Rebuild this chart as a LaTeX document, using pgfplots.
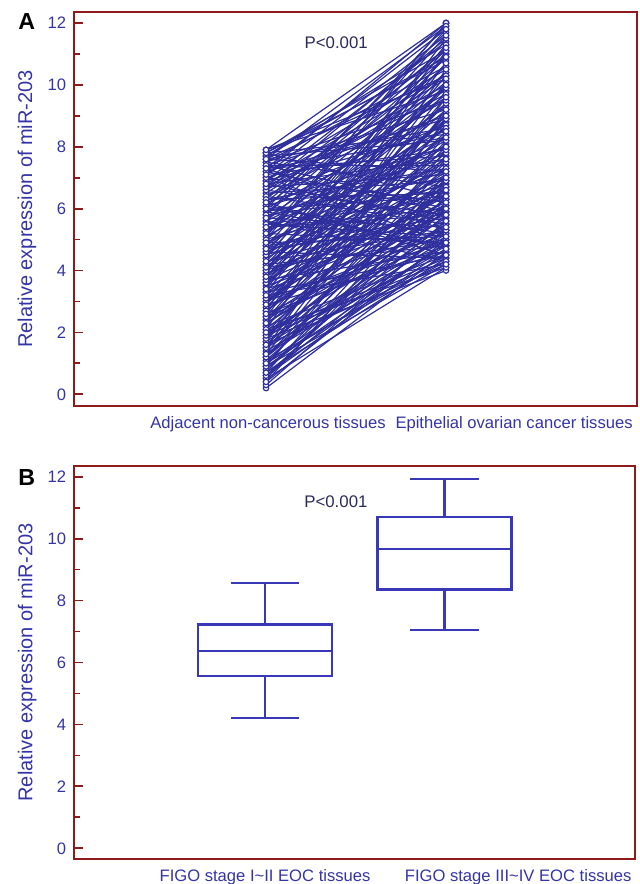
\documentclass[border=0pt]{standalone}
\usepackage{fontspec}
\setmainfont{Liberation Sans}
\usepackage{pgfplots}
\pgfplotsset{compat=1.18}
\usepackage{pgfplotstable}

\definecolor{frameRed}{HTML}{8E1B1B}
\definecolor{tickBlue}{HTML}{3434A8}
\definecolor{lineBlue}{HTML}{2E2E9C}
\definecolor{boxBlue}{HTML}{3838B8}
\definecolor{pInk}{HTML}{2A2A58}

% paired samples: adjacent tissue vs EOC tissue
\pgfplotstableread{
adj eoc
0.2 4.6
0.5 4.1
0.6 5.3
0.7 4.4
0.8 6.2
0.9 4.9
1.0 7.1
1.1 4.3
1.2 5.8
1.3 8.4
1.4 4.7
1.5 6.6
1.6 5.1
1.7 9.2
1.8 4.0
1.9 7.7
2.0 5.5
2.1 6.9
2.2 4.5
2.3 8.8
2.4 5.9
2.5 10.1
2.6 4.8
2.7 7.3
2.8 6.1
2.9 9.6
3.0 5.2
3.1 8.1
3.2 4.2
3.3 6.4
3.4 10.7
3.5 5.6
3.6 7.9
3.7 4.6
3.8 9.0
3.9 6.7
4.0 11.2
4.1 5.0
4.2 8.6
4.3 6.0
4.4 7.5
4.5 10.4
4.6 4.4
4.7 9.4
4.8 5.7
4.9 8.0
5.0 6.8
5.1 11.6
5.2 4.9
5.3 7.2
5.4 9.9
5.5 6.3
5.6 8.3
5.7 5.4
5.8 10.9
5.9 7.0
6.0 9.1
6.1 4.7
6.2 11.0
6.3 6.5
6.4 8.7
6.5 10.2
6.6 5.8
6.7 9.7
6.8 7.6
6.9 11.4
7.0 6.2
7.1 10.5
7.2 8.9
7.3 11.8
7.4 7.4
7.5 9.5
7.6 11.9
7.7 8.2
7.8 10.8
7.9 12.0
0.4 5.0
0.6 6.0
0.9 4.2
1.2 7.4
1.5 5.0
1.8 6.3
2.0 4.4
2.3 5.7
2.6 9.8
2.9 4.6
3.1 6.5
3.4 5.3
3.7 8.4
4.0 6.1
4.3 10.0
4.6 7.0
4.9 5.1
5.2 9.3
5.5 7.8
5.8 6.6
6.1 10.6
6.4 5.5
6.7 11.5
7.0 9.0
7.3 7.7
7.6 10.3
7.8 11.1
7.5 6.7
6.9 8.5
6.0 11.7
5.3 10.1
4.4 11.3
3.5 9.4
2.4 8.0
1.6 6.8
0.8 5.6
1.0 4.5
2.1 4.1
3.2 7.2
4.8 8.8
5.6 4.3
6.6 9.9
7.2 5.9
7.7 10.9
3.9 5.9
2.7 6.6
4.1 7.6
5.0 12.0
6.3 7.3
1.4 8.9
3.6 11.0
5.9 4.8
7.4 9.2
0.5 6.4
0.3 5.4
0.7 7.0
1.1 6.1
1.3 4.8
1.7 5.3
1.9 4.3
2.2 7.5
2.5 5.0
2.8 8.7
3.0 6.9
3.3 4.5
3.6 5.8
3.8 7.1
4.2 4.8
4.5 6.4
4.7 5.5
5.1 8.2
5.4 6.0
5.7 9.6
6.0 5.2
6.2 8.0
6.5 6.9
6.8 10.0
7.1 7.9
7.3 5.3
7.6 8.6
7.9 9.8
7.8 6.3
7.7 11.3
7.5 10.6
7.2 12.0
6.9 10.3
6.6 11.1
6.4 9.5
6.1 7.6
5.8 11.9
5.6 10.4
5.3 8.6
5.0 9.7
4.8 10.9
4.5 8.3
4.2 9.9
3.9 11.5
3.6 8.9
3.3 10.3
3.0 7.8
2.7 11.1
2.4 9.1
2.1 10.5
1.8 8.2
1.5 9.6
1.2 6.7
0.9 7.9
0.6 4.7
0.4 6.9
1.0 5.2
1.9 5.9
2.5 6.3
3.1 4.9
3.7 6.2
4.3 5.3
4.9 7.3
5.5 5.1
6.0 6.4
6.7 7.1
7.0 4.9
7.4 6.0
7.8 8.4
7.9 10.2
7.1 11.6
6.3 11.2
5.2 11.8
4.6 10.7
3.8 10.0
2.9 8.5
2.0 7.6
1.3 5.5
0.7 4.9
1.6 4.2
2.6 5.4
3.4 7.0
4.0 8.9
4.7 6.6
5.4 5.8
6.2 4.5
6.8 5.6
7.3 8.3
7.6 7.2
5.7 8.0
4.1 9.2
3.2 9.0
2.3 6.0
}\pairs

\pgfplotsset{
  panel/.style={
    scale only axis,
    anchor=south west,
    axis line style={frameRed, line width=1pt},
    ytick={0,2,4,6,8,10,12},
    minor y tick num=1,
    ytick pos=left,
    tick align=inside,
    major tick length=4.5pt,
    minor tick length=3pt,
    every tick/.style={frameRed, line width=0.9pt},
    major x tick style={draw=none},
    yticklabel style={font=\fontsize{8.3}{9}\selectfont, text=tickBlue, xshift=-0.4pt},
    xticklabel style={font=\fontsize{8.3}{9}\selectfont, text=tickBlue},
    /pgf/number format/assume math mode=true,
    every axis y label/.style={at={(axis description cs:-0.0835,0.5)},
      rotate=90, anchor=center},
    ylabel style={font=\fontsize{10}{12}\selectfont, text=tickBlue},
    ylabel={Relative expression of miR-203},
    clip=false,
  },
  boxline/.style={boxBlue, line width=1.1pt, no markers, solid, line cap=rect, line join=miter},
}

\begin{document}
\begin{tikzpicture}
  \useasboundingbox (0,0) rectangle (319.5pt,442pt);

  % Panel A
  \begin{axis}[panel,
    at={(37pt,239pt)},
    width=281.5pt, height=197pt,
    xmin=-1.067, xmax=2.061,
    ymin=-0.378, ymax=12.356,
    xtick={0.011,1.378},
    xticklabels={Adjacent non-cancerous tissues, Epithelial ovarian cancer tissues},
    xticklabel style={yshift=-1.8pt},
  ]
    \addplot[lineBlue, line width=0.6pt, no markers,
      quiver={u=1, v=\thisrow{eoc}-\thisrow{adj}}]
      table[x expr=0, y=adj] {\pairs};
    \addplot[only marks, mark=*, mark size=1.35pt,
      mark options={draw=lineBlue, fill=white, line width=0.6pt}]
      table[x expr=0, y=adj] {\pairs};
    \addplot[only marks, mark=*, mark size=1.35pt,
      mark options={draw=lineBlue, fill=white, line width=0.6pt}]
      table[x expr=1, y=eoc] {\pairs};
    \node[font=\fontsize{8.4}{9}\selectfont, text=pInk] at (axis cs:0.39,11.35) {P<0.001};
  \end{axis}

  % Panel B
  \begin{axis}[panel,
    at={(37pt,12.5pt)},
    width=280.5pt, height=196.5pt,
    xmin=-1.064, xmax=2.061,
    ymin=-0.345, ymax=12.345,
    xtick={0.0,1.41},
    xticklabels={FIGO stage I\textasciitilde II EOC tissues, FIGO stage III\textasciitilde IV EOC tissues},
    xticklabel style={yshift=-1.6pt},
  ]
    % FIGO I~II: whiskers 4.20 / 8.56, quartiles 5.57 / 7.23, median 6.36
    \addplot[boxline] coordinates {(-0.373,5.57) (0.373,5.57) (0.373,7.23) (-0.373,7.23) (-0.373,5.57)};
    \addplot[boxline] coordinates {(-0.373,6.36) (0.373,6.36)};
    \addplot[boxline] coordinates {(0,7.23) (0,8.56)};
    \addplot[boxline] coordinates {(-0.184,8.56) (0.184,8.56)};
    \addplot[boxline] coordinates {(0,5.57) (0,4.20)};
    \addplot[boxline] coordinates {(-0.184,4.20) (0.184,4.20)};
    % FIGO III~IV: whiskers 7.05 / 11.92, quartiles 8.36 / 10.71, median 9.67
    \addplot[boxline] coordinates {(0.627,8.36) (1.373,8.36) (1.373,10.71) (0.627,10.71) (0.627,8.36)};
    \addplot[boxline] coordinates {(0.627,9.67) (1.373,9.67)};
    \addplot[boxline] coordinates {(1,10.71) (1,11.92)};
    \addplot[boxline] coordinates {(0.816,11.92) (1.184,11.92)};
    \addplot[boxline] coordinates {(1,8.36) (1,7.05)};
    \addplot[boxline] coordinates {(0.816,7.05) (1.184,7.05)};
    \node[font=\fontsize{8.4}{9}\selectfont, text=pInk] at (axis cs:0.395,11.18) {P<0.001};
  \end{axis}

  \node[anchor=north west, inner sep=0pt, font=\fontsize{11.6}{12}\selectfont\bfseries]
    at (9pt,435.5pt) {A};
  \node[anchor=north west, inner sep=0pt, font=\fontsize{11.6}{12}\selectfont\bfseries]
    at (9pt,207.5pt) {B};
\end{tikzpicture}
\end{document}
